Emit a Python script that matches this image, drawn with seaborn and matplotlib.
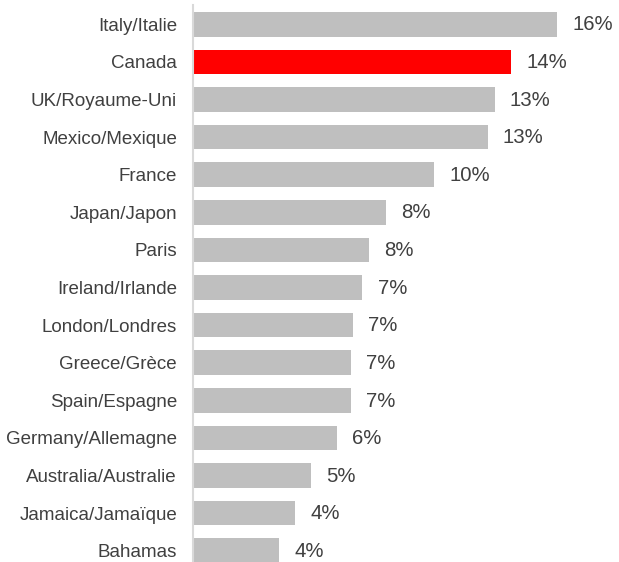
import pandas as pd
import matplotlib.pyplot as plt
import seaborn as sns

countries = ['Italy/Italie', 'Canada', 'UK/Royaume-Uni', 'Mexico/Mexique', 'France',
             'Japan/Japon', 'Paris', 'Ireland/Irlande', 'London/Londres', 'Greece/Grèce',
             'Spain/Espagne', 'Germany/Allemagne', 'Australia/Australie',
             'Jamaica/Jamaïque', 'Bahamas']
share = [15.7, 13.7, 13.0, 12.7, 10.4, 8.3, 7.6, 7.3, 6.9, 6.8, 6.8, 6.2, 5.1, 4.4, 3.7]
labels = ['16%', '14%', '13%', '13%', '10%', '8%', '8%', '7%', '7%', '7%', '7%',
          '6%', '5%', '4%', '4%']

df = pd.DataFrame({'country': countries, 'share': share})
colors = ['#FF0000' if c == 'Canada' else '#BFBFBF' for c in countries]

sns.set_style('white')
plt.rcParams['font.family'] = ['Liberation Sans', 'DejaVu Sans']

fig = plt.figure(figsize=(6.19, 5.62), dpi=100)
ax = fig.add_axes([193 / 619, 0, 426 / 619, 557 / 562])

sns.barplot(data=df, y='country', x='share', hue='country', palette=colors,
            legend=False, width=0.65, saturation=1, linewidth=0, ax=ax)

# value labels to the right of each bar
for i, (v, lab) in enumerate(zip(share, labels)):
    ax.annotate(lab, (v, i), xytext=(11, -0.5), textcoords='offset points',
                ha='left', va='center', fontsize=14.7, color='#404040')

ax.set_xlim(0, 18.36)
ax.set_ylim(14.3, -0.513)
ax.set_xlabel('')
ax.set_ylabel('')
ax.set_xticks([])
ax.tick_params(axis='y', length=0, pad=11.5, labelsize=13.5, labelcolor='#404040')

for side in ['top', 'right', 'bottom']:
    ax.spines[side].set_visible(False)
ax.spines['left'].set_color('#D9D9D9')
ax.spines['left'].set_linewidth(1.5)

fig.savefig('out.png', dpi=100)
